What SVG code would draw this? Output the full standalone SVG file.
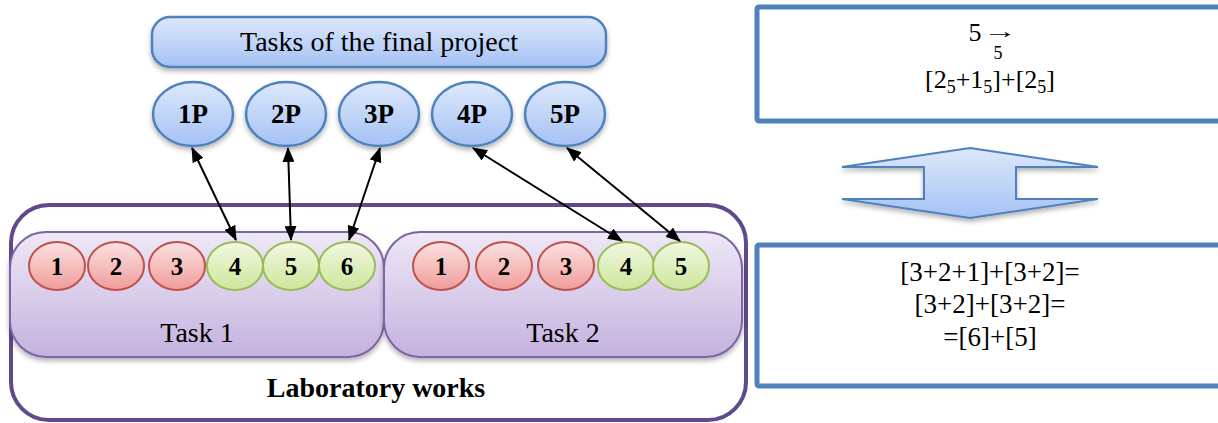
<svg xmlns="http://www.w3.org/2000/svg" width="1218" height="423" viewBox="0 0 1218 423">
<defs>
<linearGradient id="gBlue" x1="0" y1="0" x2="0" y2="1"><stop offset="0" stop-color="#dde8fb"/><stop offset="1" stop-color="#a5c2f4"/></linearGradient>
<linearGradient id="gRed" x1="0" y1="0" x2="0" y2="1"><stop offset="0" stop-color="#fbe2e1"/><stop offset="1" stop-color="#ef9c9a"/></linearGradient>
<linearGradient id="gGreen" x1="0" y1="0" x2="0" y2="1"><stop offset="0" stop-color="#f1f8e2"/><stop offset="1" stop-color="#cde69b"/></linearGradient>
<linearGradient id="gPurple" x1="0" y1="0" x2="0" y2="1"><stop offset="0" stop-color="#eee8f6"/><stop offset="1" stop-color="#c4b2df"/></linearGradient>
<filter id="sh" x="-20%" y="-20%" width="140%" height="150%"><feDropShadow dx="0" dy="3" stdDeviation="2.5" flood-color="#000" flood-opacity="0.3"/></filter>
<marker id="ah" viewBox="0 0 15 12" refX="14" refY="6" markerWidth="15" markerHeight="12" markerUnits="userSpaceOnUse" orient="auto-start-reverse"><path d="M0,0 L15,6 L0,12 z" fill="#000"/></marker>
<style>
.blue{fill:url(#gBlue);stroke:#4f81bd;stroke-width:2.5;filter:url(#sh)}
.red{fill:url(#gRed);stroke:#c0504d;stroke-width:2}
.green{fill:url(#gGreen);stroke:#9bbb59;stroke-width:2}
.task{fill:url(#gPurple);stroke:#7f64a6;stroke-width:2;filter:url(#sh)}
.num{font-weight:bold;font-size:25px;text-anchor:middle}
.box{fill:#fff;stroke:#4f81bd;stroke-width:5}
.con{stroke:#000;stroke-width:2;fill:none;marker-start:url(#ah);marker-end:url(#ah)}
</style>
</defs>
<rect width="1218" height="423" fill="#fff"/>
<g font-family="Liberation Serif, Times New Roman, serif" fill="#000">
<g id="lab">
<rect x="11" y="205" width="735" height="215" rx="38" fill="#fff" stroke="#5f4b8b" stroke-width="4"/>
<text x="376" y="397" font-size="28" font-weight="bold" text-anchor="middle">Laboratory works</text>
</g>
<g id="task1">
<rect class="task" x="10" y="232" width="374" height="125" rx="36"/>
<text x="197" y="342" font-size="28" text-anchor="middle">Task 1</text>
</g>
<g id="task2">
<rect class="task" x="384" y="232" width="358" height="125" rx="36"/>
<text x="563" y="342" font-size="28" text-anchor="middle">Task 2</text>
</g>
<g id="t1c1"><ellipse class="red" cx="57" cy="266" rx="28" ry="24"/><text class="num" x="57" y="275">1</text></g>
<g id="t1c2"><ellipse class="red" cx="116" cy="266" rx="28" ry="24"/><text class="num" x="116" y="275">2</text></g>
<g id="t1c3"><ellipse class="red" cx="177" cy="266" rx="28" ry="24"/><text class="num" x="177" y="275">3</text></g>
<g id="t1c4"><ellipse class="green" cx="235" cy="266" rx="28" ry="24"/><text class="num" x="235" y="275">4</text></g>
<g id="t1c5"><ellipse class="green" cx="291" cy="266" rx="28" ry="24"/><text class="num" x="291" y="275">5</text></g>
<g id="t1c6"><ellipse class="green" cx="347" cy="266" rx="28" ry="24"/><text class="num" x="347" y="275">6</text></g>
<g id="t2c1"><ellipse class="red" cx="441" cy="266" rx="28" ry="24"/><text class="num" x="441" y="275">1</text></g>
<g id="t2c2"><ellipse class="red" cx="504" cy="266" rx="28" ry="24"/><text class="num" x="504" y="275">2</text></g>
<g id="t2c3"><ellipse class="red" cx="566" cy="266" rx="28" ry="24"/><text class="num" x="566" y="275">3</text></g>
<g id="t2c4"><ellipse class="green" cx="626" cy="266" rx="28" ry="24"/><text class="num" x="626" y="275">4</text></g>
<g id="t2c5"><ellipse class="green" cx="681" cy="266" rx="28" ry="24"/><text class="num" x="681" y="275">5</text></g>

<g id="final">
<rect class="blue" x="152" y="17" width="454" height="50" rx="18"/>
<text x="379" y="51" font-size="28" text-anchor="middle">Tasks of the final project</text>
</g>
<g id="p1"><ellipse class="blue" cx="193" cy="114" rx="40" ry="32"/><text x="193" y="123" font-size="27" font-weight="bold" text-anchor="middle">1P</text></g>
<g id="p2"><ellipse class="blue" cx="286" cy="114" rx="40" ry="32"/><text x="286" y="123" font-size="27" font-weight="bold" text-anchor="middle">2P</text></g>
<g id="p3"><ellipse class="blue" cx="379" cy="114" rx="40" ry="32"/><text x="379" y="123" font-size="27" font-weight="bold" text-anchor="middle">3P</text></g>
<g id="p4"><ellipse class="blue" cx="472" cy="114" rx="40" ry="32"/><text x="472" y="123" font-size="27" font-weight="bold" text-anchor="middle">4P</text></g>
<g id="p5"><ellipse class="blue" cx="565" cy="114" rx="40" ry="32"/><text x="565" y="123" font-size="27" font-weight="bold" text-anchor="middle">5P</text></g>

<g id="connectors">
<line class="con" x1="192" y1="148" x2="236" y2="240"/>
<line class="con" x1="288" y1="148" x2="291" y2="240"/>
<line class="con" x1="380" y1="148" x2="349" y2="240"/>
<line class="con" x1="473" y1="148" x2="622" y2="241"/>
<line class="con" x1="567" y1="148" x2="680" y2="241"/>
</g>

<g id="formula1">
<rect class="box" x="757" y="7" width="470" height="114" rx="2"/>
<text x="975" y="41" font-size="26" text-anchor="middle">5</text>
<text transform="translate(1000,38) scale(1.7,1)" x="0" y="0" font-size="20" text-anchor="middle">→</text>
<text x="998" y="59" font-size="18" text-anchor="middle">5</text>
<text x="990" y="88" font-size="26" text-anchor="middle">[2<tspan font-size="18" dy="5">5</tspan><tspan dy="-5">+1</tspan><tspan font-size="18" dy="5">5</tspan><tspan dy="-5">]+[2</tspan><tspan font-size="18" dy="5">5</tspan><tspan dy="-5">]</tspan></text>
</g>

<g id="dblarrow">
<polygon points="970,148 1098,167 1016,167 1016,199 1098,199 970,218 842,199 924,199 924,167 842,167" fill="url(#gBlue)" stroke="#4f81bd" stroke-width="2" filter="url(#sh)"/>
</g>

<g id="formula2">
<rect class="box" x="757" y="245" width="470" height="141" rx="2"/>
<text x="990" y="281" font-size="27" text-anchor="middle">[3+2+1]+[3+2]=</text>
<text x="990" y="313" font-size="27" text-anchor="middle">[3+2]+[3+2]=</text>
<text x="990" y="346" font-size="27" text-anchor="middle">=[6]+[5]</text>
</g>
</g>
</svg>
